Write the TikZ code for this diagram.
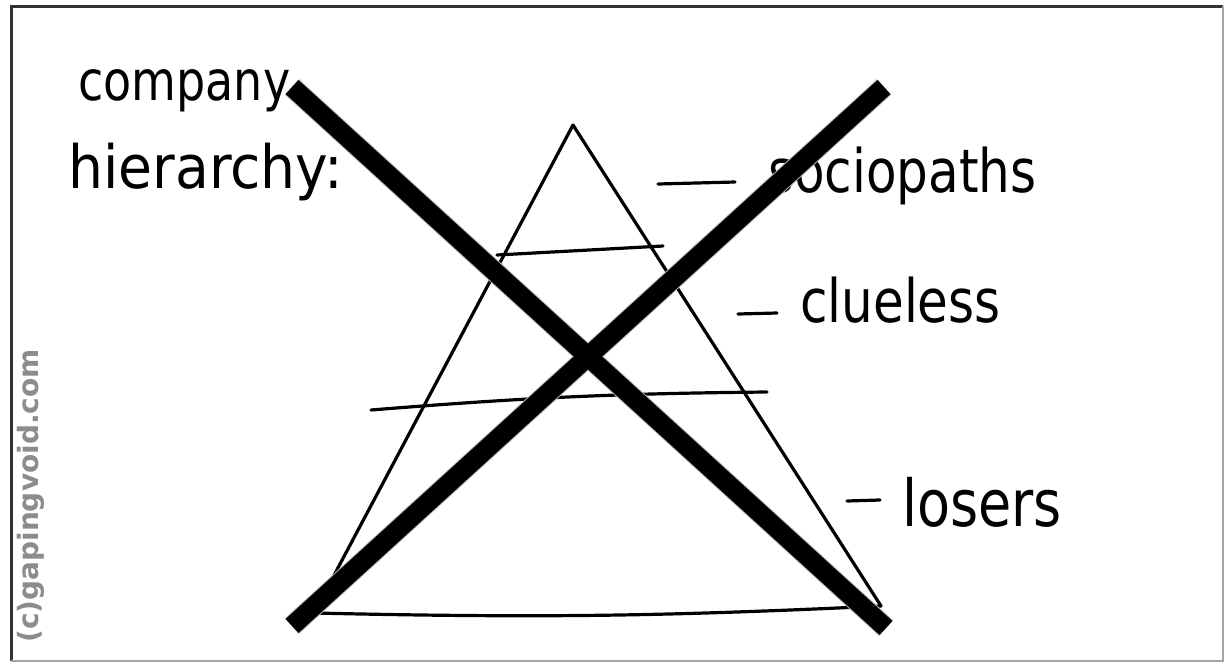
\documentclass[tikz,border=0pt]{standalone}
\usepackage{fontspec}
\setmainfont{DejaVu Sans}
\setsansfont{DejaVu Sans}
\newfontfamily\handfont{DejaVu Sans}
\newcommand{\tallt}[1]{\scalebox{1}[1.2]{#1}}
\begin{document}
\begin{tikzpicture}[x=1pt,y=-1pt,
  hand/.style={line width=3.2pt,black,line cap=round,line join=round},
  crossedge/.style={line width=21pt,black!30,line cap=butt},
  cross/.style={line width=19pt,black,line cap=butt},
  lbl/.style={font=\handfont\fontsize{46}{50}\selectfont,inner sep=0pt,anchor=base west},
  lblr/.style={font=\handfont\fontsize{50}{54}\selectfont,inner sep=0pt,anchor=base west},
  wmark/.style={font=\sffamily\bfseries\fontsize{28}{32}\selectfont,text=black!45,inner sep=0pt}]
\useasboundingbox (0,0) rectangle (1229,664);
\fill[white] (0,0) rectangle (1229,664);
% frame
\draw[line width=3pt,black!80] (1223,6) -- (11,6) -- (11,661);
\draw[line width=2pt,black!35] (11,661) -- (1223,661) -- (1223,6);
% triangle
\coordinate (apex) at (573,125);
\coordinate (bl) at (314,613);
\coordinate (br) at (881,606);
\coordinate (l1a) at (497,255);
\coordinate (l1b) at (663,246);
\coordinate (l2a) at (371,410);
\coordinate (l2b) at (767,392);
\draw[hand] (bl) -- (apex) -- (br);
\draw[hand] (l1a) -- (l1b);
\draw[hand] (l2a) to[bend left=2] (l2b);
\draw[hand] (bl) to[bend right=2] (br);
% dashes
\coordinate (d1a) at (658,184); \coordinate (d1b) at (735,182);
\coordinate (d2a) at (738,314); \coordinate (d2b) at (777,313);
\coordinate (d3a) at (847,501); \coordinate (d3b) at (880,500);
\draw[hand] (d1a) -- (d1b);
\draw[hand] (d2a) -- (d2b);
\draw[hand] (d3a) -- (d3b);
% labels
\node[lbl] (company) at (78,100) {\tallt{company}};
\node[lbl] (hier) at (68,188) {\scalebox{1.2}[1.3]{hierarchy:}};
\node[lblr] (socio) at (768,192) {\tallt{sociopaths}};
\node[lblr] (clue) at (800,322) {\tallt{clueless}};
\node[lblr,font=\handfont\fontsize{54}{58}\selectfont] (losers) at (902,526) {\tallt{losers}};
\node[wmark,rotate=90] (wm) at (31,496) {(c)gapingvoid.com};
% cross
\coordinate (c1a) at (292,87); \coordinate (c1b) at (886,628);
\coordinate (c2a) at (884,87); \coordinate (c2b) at (292,626);
\draw[crossedge] (c1a) -- (c1b);
\draw[crossedge] (c2a) -- (c2b);
\draw[cross] (c1a) -- (c1b);
\draw[cross] (c2a) -- (c2b);
\end{tikzpicture}
\end{document}
